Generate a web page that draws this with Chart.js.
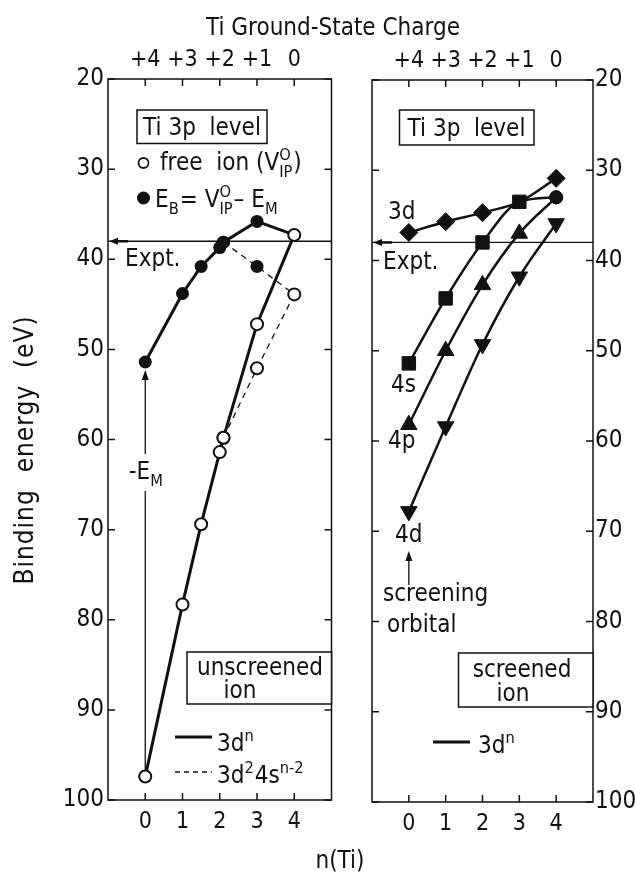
<!DOCTYPE html>
<html>
<head>
<meta charset="utf-8">
<title>Ti 3p binding energy</title>
<script src="https://cdn.jsdelivr.net/npm/chart.js@4.4.1/dist/chart.umd.min.js"></script>
<style>
  html, body { margin: 0; padding: 0; background: #fff; }
  #page { position: relative; width: 635px; height: 874px; overflow: hidden; }
  #page canvas { position: absolute; top: 0; }
  #leftChart { left: 0; }
  #rightChart { left: 345px; }
  .caption { position: absolute; white-space: nowrap; color: #111; line-height: 1;
    font-family: 'DejaVu Sans Condensed', 'Liberation Sans Narrow', 'DejaVu Sans', sans-serif;
    font-size: 24px; transform: translateX(-50%); }
</style>
</head>
<body>
<div id="page">
  <canvas id="leftChart" width="345" height="874"></canvas>
  <canvas id="rightChart" width="290" height="874"></canvas>
  <div class="caption" style="left:333px; top:15px;">Ti Ground-State Charge</div>
  <div class="caption" style="left:340px; top:848px;">n(Ti)</div>
</div>
<script>
// left panel: unscreened ion, 3d^n and 3d^2 4s^(n-2)
const nUnscreened = [0, 1, 1.5, 2, 2.1, 3, 4];
const freeIon3dn = [97.4, 78.3, 69.4, 61.4, 59.8, 47.2, 37.3];
const bindingE3dn = [51.4, 43.8, 40.8, 38.7, 38.1, 35.8, 37.3];
const nMixed = [2.1, 3, 4];
const freeIonMixed = [59.8, 52.1, 43.9];
const bindingEMixed = [38.1, 40.8, 43.9];

// right panel: screened ion, one curve per screening orbital
const nScreened = [0, 1, 2, 3, 4];
const screened3d = [36.9, 35.7, 34.7, 33.5, 30.9];
const screened4s = [51.4, 44.2, 38.0, 33.5, 33.0];
const screened4p = [58.2, 50.0, 42.7, 37.0, 33.0];
const screened4d = [67.8, 58.4, 49.3, 41.8, 35.9];

// experimental Ti 3p level
const exptEnergy = 38;

// axes
const energyTicks = [20, 30, 40, 50, 60, 70, 80, 90, 100];
const nTicks = [0, 1, 2, 3, 4];
const chargeLabels = ['+4', '+3', '+2', '+1', '0'];

const FAMILY = "'DejaVu Sans Condensed', 'Liberation Sans Narrow', 'DejaVu Sans', sans-serif";
const INK = '#111';
const RIGHT_OFFSET = 345;
const font = size => size + 'px ' + FAMILY;
const pts = (xs, ys) => xs.map((x, i) => ({ x: x, y: ys[i] }));

// text with sub/superscripts; parts are strings or {sup, sub}
function richText(ctx, parts, x, y, size, align) {
  const small = size * 0.68;
  const widthOf = p => {
    if (typeof p === 'string') { ctx.font = font(size); return ctx.measureText(p).width; }
    ctx.font = font(small);
    return Math.max(ctx.measureText(p.sup || '').width, ctx.measureText(p.sub || '').width) + 1;
  };
  let total = 0;
  parts.forEach(p => { total += widthOf(p); });
  let cx = align === 'center' ? x - total / 2 : x;
  ctx.save();
  ctx.fillStyle = INK;
  ctx.textAlign = 'left';
  ctx.textBaseline = 'alphabetic';
  parts.forEach(p => {
    const w = widthOf(p);
    if (typeof p === 'string') {
      ctx.fillText(p, cx, y);
    } else {
      if (p.sup) ctx.fillText(p.sup, cx, y - size * 0.42);
      if (p.sub) ctx.fillText(p.sub, cx, y + size * 0.28);
    }
    cx += w;
  });
  ctx.restore();
}

function box(ctx, l, t, r, b) {
  ctx.save();
  ctx.fillStyle = '#fff';
  ctx.fillRect(l, t, r - l, b - t);
  ctx.strokeStyle = INK;
  ctx.lineWidth = 1.5;
  ctx.strokeRect(l, t, r - l, b - t);
  ctx.restore();
}

function segment(ctx, x1, y1, x2, y2, width, dash) {
  ctx.save();
  ctx.strokeStyle = INK;
  ctx.lineWidth = width;
  ctx.setLineDash(dash || []);
  ctx.beginPath();
  ctx.moveTo(x1, y1);
  ctx.lineTo(x2, y2);
  ctx.stroke();
  ctx.restore();
}

function arrowHeadUp(ctx, x, yTip) {
  ctx.save();
  ctx.fillStyle = INK;
  ctx.beginPath();
  ctx.moveTo(x, yTip);
  ctx.lineTo(x - 3.5, yTip + 10);
  ctx.lineTo(x + 3.5, yTip + 10);
  ctx.closePath();
  ctx.fill();
  ctx.restore();
}

// frame, inward ticks and the experimental line, for both panels
const panelFrame = {
  id: 'panelFrame',
  beforeDatasetsDraw(chart) {
    const { ctx, chartArea: a, scales } = chart;
    const x = scales.x, y = scales.y;
    ctx.save();
    ctx.strokeStyle = INK;
    ctx.lineWidth = 1.5;
    ctx.strokeRect(a.left, a.top, a.right - a.left, a.bottom - a.top);
    ctx.beginPath();
    nTicks.forEach(v => {
      const px = x.getPixelForValue(v);
      ctx.moveTo(px, a.bottom); ctx.lineTo(px, a.bottom - 7);
      ctx.moveTo(px, a.top); ctx.lineTo(px, a.top + 7);
    });
    energyTicks.forEach(v => {
      const py = y.getPixelForValue(v);
      ctx.moveTo(a.left, py); ctx.lineTo(a.left + 7, py);
      ctx.moveTo(a.right, py); ctx.lineTo(a.right - 7, py);
    });
    ctx.stroke();
    const ey = y.getPixelForValue(exptEnergy);
    ctx.lineWidth = 1.3;
    ctx.beginPath(); ctx.moveTo(a.left, ey); ctx.lineTo(a.right, ey); ctx.stroke();
    ctx.lineWidth = 2.5;
    ctx.beginPath(); ctx.moveTo(a.left + 6, ey); ctx.lineTo(a.left + 20, ey); ctx.stroke();
    ctx.fillStyle = INK;
    ctx.beginPath();
    ctx.moveTo(a.left + 1, ey); ctx.lineTo(a.left + 10, ey - 3.5); ctx.lineTo(a.left + 10, ey + 3.5);
    ctx.closePath(); ctx.fill();
    ctx.restore();
  }
};

const leftNotes = {
  id: 'leftNotes',
  afterDatasetsDraw(chart) {
    const { ctx, scales: { x, y } } = chart;

    // y axis title, drawn by hand so it can sit where the original has it
    ctx.save();
    ctx.translate(26, 450);
    ctx.rotate(-Math.PI / 2);
    ctx.font = font(26);
    ctx.letterSpacing = '1px';
    ctx.fillStyle = INK;
    ctx.textAlign = 'center';
    ctx.textBaseline = 'middle';
    ctx.fillText('Binding  energy  (eV)', 0, 0);
    ctx.restore();

    box(ctx, 137, 110, 267, 143.5);
    richText(ctx, ['Ti 3p  level'], 202, 135, 24, 'center');

    ctx.save();
    ctx.strokeStyle = INK; ctx.fillStyle = INK; ctx.lineWidth = 1.8;
    ctx.beginPath(); ctx.arc(143.5, 163, 5, 0, Math.PI * 2); ctx.stroke();
    ctx.beginPath(); ctx.arc(143.5, 198, 6.5, 0, Math.PI * 2); ctx.fill();
    ctx.restore();
    richText(ctx, ['free  ion (V', { sup: 'O', sub: 'IP' }, ')'], 160, 170, 24);
    richText(ctx, ['E', { sub: 'B' }, '= V', { sup: 'O', sub: 'IP' }, '\u2013 E', { sub: 'M' }], 155, 207, 24);
    richText(ctx, ['Expt.'], 125, 266, 24);

    // -E_M arrow from the free ion to the bound ion
    const x0 = x.getPixelForValue(nUnscreened[0]);
    const tip = y.getPixelForValue(bindingE3dn[0]) + 8;
    const foot = y.getPixelForValue(freeIon3dn[0]) - 6;
    segment(ctx, x0, foot, x0, 491, 1.3);
    segment(ctx, x0, 454, x0, tip + 6, 1.3);
    arrowHeadUp(ctx, x0, tip);
    richText(ctx, ['-E', { sub: 'M' }], x0 + 1, 479, 24, 'center');

    box(ctx, 187, 652, chart.chartArea.right, 704);
    richText(ctx, ['unscreened'], 260, 675, 24, 'center');
    richText(ctx, ['ion'], 240, 698, 24, 'center');

    segment(ctx, 175, 737, 212, 737, 3);
    richText(ctx, ['3d', { sup: 'n' }], 217, 751, 24);
    segment(ctx, 175, 772, 212, 772, 1.3, [5, 4]);
    richText(ctx, ['3d', { sup: '2' }, '4s', { sup: 'n-2' }], 217, 783, 24);
  }
};

const rightNotes = {
  id: 'rightNotes',
  afterDatasetsDraw(chart) {
    const { ctx, scales: { x } } = chart;
    ctx.save();
    ctx.translate(-RIGHT_OFFSET, 0);
    box(ctx, 399.5, 110, 534, 145);
    richText(ctx, ['Ti 3p  level'], 466.5, 136, 24, 'center');
    richText(ctx, ['3d'], 388, 219, 24);
    richText(ctx, ['Expt.'], 383, 269, 24);
    richText(ctx, ['4s'], 391, 392, 24);
    richText(ctx, ['4p'], 388, 448, 24);
    richText(ctx, ['4d'], 395, 542, 24);
    const x0 = x.getPixelForValue(nScreened[0]) + RIGHT_OFFSET;
    segment(ctx, x0, 585, x0, 558, 1.3);
    arrowHeadUp(ctx, x0, 551);
    richText(ctx, ['screening'], 383, 601, 24);
    richText(ctx, ['orbital'], 387, 632, 24);
    box(ctx, 458.5, 653, 593, 707);
    richText(ctx, ['screened'], 522, 677, 24, 'center');
    richText(ctx, ['ion'], 513, 701, 24, 'center');
    segment(ctx, 433, 742, 470, 742, 3);
    richText(ctx, ['3d', { sup: 'n' }], 478, 753, 24);
    ctx.restore();
  }
};

function nAxis(position, height, labels) {
  return {
    type: 'linear', position: position, min: -1, max: 5,
    grid: { display: false, drawTicks: false }, border: { display: false },
    ticks: {
      color: INK, font: { family: FAMILY, size: 23 }, padding: position === 'top' ? 5 : 8,
      callback: v => labels ? labels[nTicks.indexOf(v)] : String(v)
    },
    afterBuildTicks: s => { s.ticks = nTicks.map(v => ({ value: v })); },
    afterFit: s => { s.height = height; }
  };
}

function energyAxis(position, width) {
  return {
    type: 'linear', position: position, min: 20, max: 100, reverse: true,
    grid: { display: false, drawTicks: false }, border: { display: false },
    ticks: { color: INK, font: { family: FAMILY, size: 24 }, padding: position === 'right' ? 2 : 4 },
    afterBuildTicks: s => { s.ticks = energyTicks.map(v => ({ value: v })); },
    afterFit: s => { s.width = width; }
  };
}

const common = {
  responsive: false,
  animation: false,
  events: [],
  plugins: { legend: { display: false }, tooltip: { enabled: false } }
};

new Chart(document.getElementById('leftChart'), {
  type: 'line',
  data: {
    datasets: [
      {
        label: 'E_B, 3d^n',
        data: pts(nUnscreened, bindingE3dn),
        borderColor: INK, borderWidth: 3,
        pointRadius: bindingE3dn.map((v, i) => i === bindingE3dn.length - 1 ? 0 : 6.5),
        pointBackgroundColor: INK, pointBorderColor: INK, pointBorderWidth: 0,
        order: 3
      },
      {
        label: 'E_B, 3d^2 4s^n-2',
        data: pts(nMixed, bindingEMixed),
        borderColor: INK, borderWidth: 1.3, borderDash: [6, 5],
        pointRadius: [6.5, 6.5, 0],
        pointBackgroundColor: INK, pointBorderColor: INK, pointBorderWidth: 0,
        order: 4
      },
      {
        label: 'free ion, 3d^n',
        data: pts(nUnscreened, freeIon3dn),
        borderColor: INK, borderWidth: 3,
        pointRadius: 6, pointBackgroundColor: '#fff', pointBorderColor: INK, pointBorderWidth: 2,
        order: 1
      },
      {
        label: 'free ion, 3d^2 4s^n-2',
        data: pts(nMixed, freeIonMixed),
        borderColor: INK, borderWidth: 1.3, borderDash: [6, 5],
        pointRadius: 6, pointBackgroundColor: '#fff', pointBorderColor: INK, pointBorderWidth: 2,
        order: 2
      }
    ]
  },
  options: Object.assign({}, common, {
    layout: { padding: { top: 0, right: 13.5, bottom: 0, left: 0 } },
    scales: {
      x: nAxis('bottom', 74),
      xTop: nAxis('top', 79, chargeLabels),
      y: energyAxis('left', 108)
    }
  }),
  plugins: [panelFrame, leftNotes]
});

// the last 4s/4p points sit on the shared n = 4 circle; the 3d diamond at n = 3 is covered by the 4s square
function screenedSet(label, values, style, rotation, order) {
  const last = values.length - 1;
  const endsOnCircle = style !== 'rectRot' && rotation === 0;
  return {
    label: label,
    data: pts(nScreened, values),
    borderColor: INK, borderWidth: 2.5,
    cubicInterpolationMode: 'monotone',
    pointStyle: values.map((v, i) => (i === last && endsOnCircle) ? 'circle' : style),
    pointRadius: values.map((v, i) => {
      if (i === last && endsOnCircle) return 6.5;
      if (style === 'rectRot' && i === 3) return 0;
      return style === 'rectRot' ? 9 : 9.5;
    }),
    pointRotation: rotation,
    pointBackgroundColor: INK, pointBorderColor: INK, pointBorderWidth: 1,
    order: order
  };
}

new Chart(document.getElementById('rightChart'), {
  type: 'line',
  data: {
    datasets: [
      screenedSet('3d', screened3d, 'rectRot', 0, 4),
      screenedSet('4s', screened4s, 'rect', 0, 1),
      screenedSet('4p', screened4p, 'triangle', 0, 2),
      screenedSet('4d', screened4d, 'triangle', 180, 3)
    ]
  },
  options: Object.assign({}, common, {
    layout: { padding: { top: 0, right: 0, bottom: 0, left: 27 } },
    scales: {
      x: nAxis('bottom', 72),
      xTop: nAxis('top', 80, chargeLabels),
      y: energyAxis('right', 42)
    }
  }),
  plugins: [panelFrame, rightNotes]
});
</script>
</body>
</html>
